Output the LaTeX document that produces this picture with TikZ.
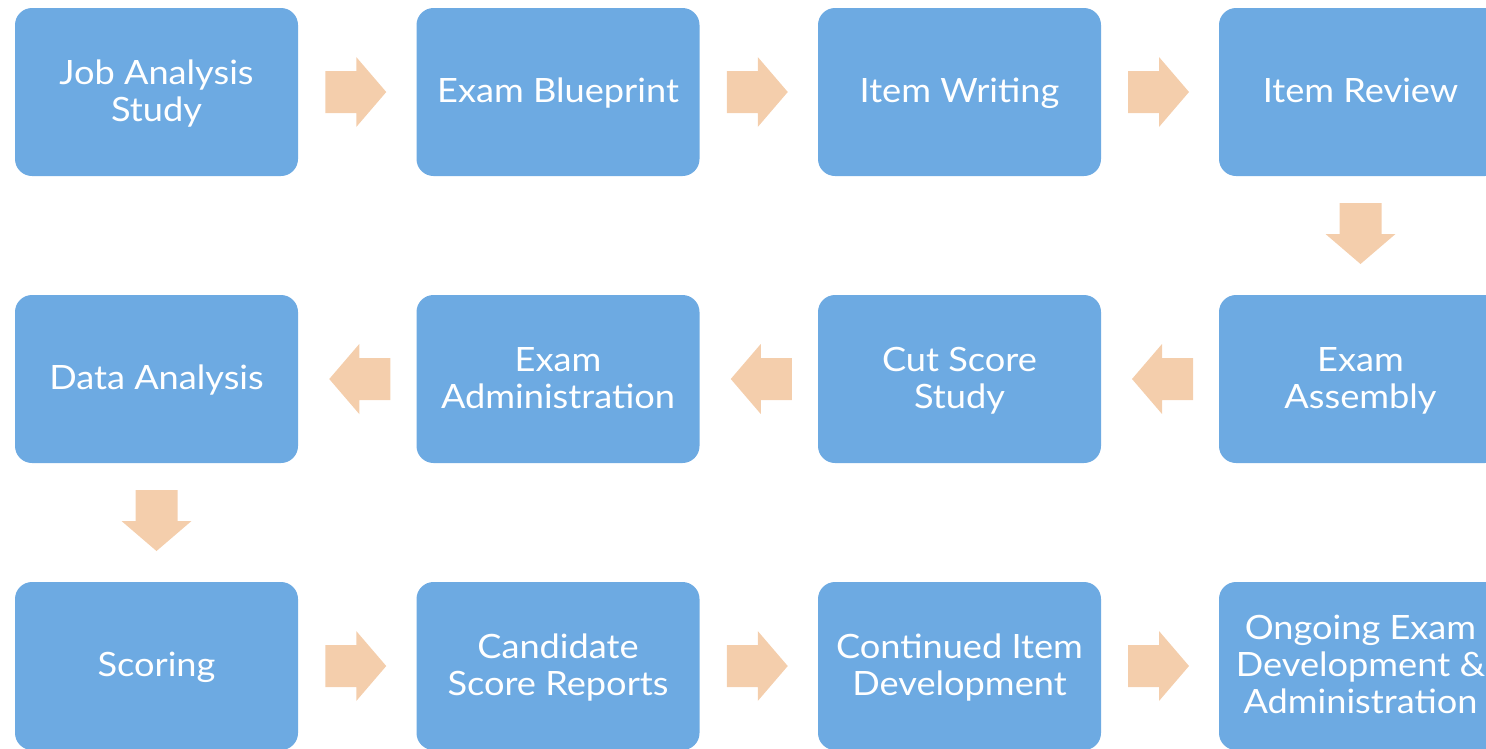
\documentclass[tikz,border=0pt]{standalone}
\usepackage{fontspec}
\setmainfont{Lato}[FakeStretch=1.08]
\usepackage{tikz}
\usetikzlibrary{calc}
\definecolor{boxblue}{HTML}{6DAAE2}
\definecolor{peach}{HTML}{F4CEAC}
\tikzset{
  stagebox/.style={rectangle,rounded corners=17pt,fill=boxblue,text=white,
    minimum width=283pt,minimum height=168pt,inner sep=0pt,align=center,
    font=\fontsize{33.5}{37}\selectfont,
    execute at begin node={\rule{0pt}{30pt}},
    execute at end node={\rule[-9pt]{0pt}{9pt}}},
  multibox/.style={stagebox,execute at begin node={\rule{0pt}{#1}}},
  pics/blockarrow/.style={code={
    \fill[peach] (-30.5,-21)--(0.5,-21)--(0.5,-35)--(30.5,0)--(0.5,35)--(0.5,21)--(-30.5,21)--cycle;}}
}

\begin{document}
\begin{tikzpicture}[x=1pt,y=-1pt]
\useasboundingbox (0,0) rectangle (1486,748);
\clip (0,0) rectangle (1486,748);
% first row
\node[multibox=67pt] (job) at (156.5,92) {Job Analysis\\Study};
\node[stagebox] (blueprint) at (558,92) {Exam Blueprint};
\node[stagebox] (writing) at (959.5,92) {Item Writing};
\node[stagebox] (review) at (1360.5,92) {Item Review};
% second row
\node[stagebox] (data) at (156.5,379) {Data Analysis};
\node[multibox=67pt] (admin) at (558,379) {Exam\\Administration};
\node[multibox=67pt] (cut) at (959.5,379) {Cut Score\\Study};
\node[multibox=67pt] (assembly) at (1360.5,379) {Exam\\Assembly};
% third row
\node[stagebox] (scoring) at (156.5,666) {Scoring};
\node[multibox=67pt] (reports) at (558,666) {Candidate\\Score Reports};
\node[multibox=67pt] (continued) at (959.5,666) {Continued Item\\Development};
\node[multibox=104pt] (ongoing) at (1360.5,666) {Ongoing Exam\\Development \&\\Administration};
% arrows
\pic at ($(job.east)!0.5!(blueprint.west)+(-1.5,0)$) {blockarrow};
\pic at ($(blueprint.east)!0.5!(writing.west)+(-1.5,0)$) {blockarrow};
\pic at ($(writing.east)!0.5!(review.west)+(-1.5,0)$) {blockarrow};
\pic[rotate=-90] at ($(review.south)!0.5!(assembly.north)+(0,-2)$) {blockarrow};
\pic[rotate=180] at ($(assembly.west)!0.5!(cut.east)+(2.5,0)$) {blockarrow};
\pic[rotate=180] at ($(cut.west)!0.5!(admin.east)+(2.5,0)$) {blockarrow};
\pic[rotate=180] at ($(admin.west)!0.5!(data.east)+(2.5,0)$) {blockarrow};
\pic[rotate=-90] at ($(data.south)!0.5!(scoring.north)+(0,-2)$) {blockarrow};
\pic at ($(scoring.east)!0.5!(reports.west)+(-1.5,0)$) {blockarrow};
\pic at ($(reports.east)!0.5!(continued.west)+(-1.5,0)$) {blockarrow};
\pic at ($(continued.east)!0.5!(ongoing.west)+(-1.5,0)$) {blockarrow};
\end{tikzpicture}
\end{document}
